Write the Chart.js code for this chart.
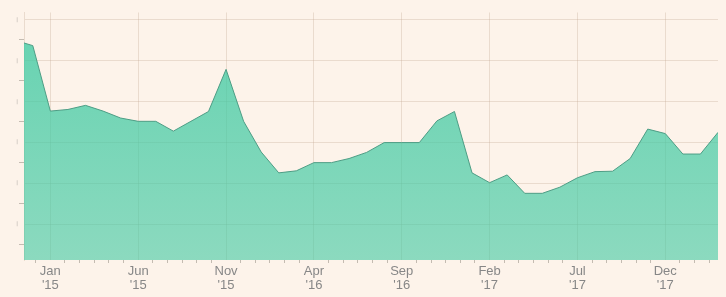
<!DOCTYPE html>
<html>
<head>
<meta charset="utf-8">
<script src="https://cdn.jsdelivr.net/npm/chart.js@4.4.1/dist/chart.umd.min.js"></script>
<style>
  html, body { margin: 0; padding: 0; background: #fdf3ea; }
  #wrap { width: 726px; height: 297px; }
</style>
</head>
<body>
<div id="wrap"><canvas id="chart"></canvas></div>
<script>
// monthly values, first one sits just left of the visible range
const months = [
  "2014-11", "2014-12",
  "2015-01", "2015-02", "2015-03", "2015-04", "2015-05", "2015-06",
  "2015-07", "2015-08", "2015-09", "2015-10", "2015-11", "2015-12",
  "2016-01", "2016-02", "2016-03", "2016-04", "2016-05", "2016-06",
  "2016-07", "2016-08", "2016-09", "2016-10", "2016-11", "2016-12",
  "2017-01", "2017-02", "2017-03", "2017-04", "2017-05", "2017-06",
  "2017-07", "2017-08", "2017-09", "2017-10", "2017-11", "2017-12",
  "2018-01", "2018-02", "2018-03",
];
const values = [
  54.9, 53.6,
  37.6, 38.0, 39.0, 37.6, 35.9, 35.1,
  35.1, 32.7, 35.1, 37.5, 47.8, 35.1,
  27.6, 22.5, 23.0, 25.0, 25.0, 26.0,
  27.5, 29.9, 29.9, 29.9, 35.2, 37.5,
  22.5, 20.1, 22.0, 17.5, 17.5, 19.0,
  21.3, 22.8, 22.9, 26.0, 33.2, 32.1,
  27.1, 27.1, 32.4,
];
const tickMonths = ["2015-01", "2015-06", "2015-11", "2016-04", "2016-09", "2017-02", "2017-07", "2017-12"];
const tickLabels = [
  ["Jan", "'15"], ["Jun", "'15"], ["Nov", "'15"], ["Apr", "'16"],
  ["Sep", "'16"], ["Feb", "'17"], ["Jul", "'17"], ["Dec", "'17"],
];
const yTicks = [5, 10, 15, 20, 25, 30, 35, 40, 45, 50, 55, 60];

const GRID = "rgba(196, 168, 146, 0.32)";
const TICK = "rgba(150, 140, 130, 0.55)";
const TEXT = "#878787";

function monthIndex(s) {
  const [y, m] = s.split("-").map(Number);
  return (y - 2015) * 12 + (m - 1);
}

const majorIdx = tickMonths.map(monthIndex);
const xMin = -1.5, xMax = monthIndex("2018-03");
const sub = (majorIdx[1] - majorIdx[0]) / 6;

const bgPlugin = {
  id: "bg",
  beforeDraw(chart) {
    const c = chart.ctx;
    c.save();
    c.fillStyle = "#fdf3ea";
    c.fillRect(0, 0, chart.width, chart.height);
    c.restore();
  },
};

function areaFill(ctx) {
  const area = ctx.chart.chartArea;
  if (!area) return "rgba(64, 201, 162, 0.7)";
  const g = ctx.chart.ctx.createLinearGradient(0, area.top, 0, area.bottom);
  g.addColorStop(0, "rgba(62, 202, 162, 0.8)");
  g.addColorStop(1, "rgba(64, 201, 162, 0.6)");
  return g;
}

new Chart(document.getElementById("chart"), {
  type: "line",
  data: {
    datasets: [{
      data: months.map((m, i) => ({ x: monthIndex(m), y: values[i] })),
      borderColor: "#4e9d85",
      borderWidth: 1,
      backgroundColor: areaFill,
      fill: "start",
      pointRadius: 0,
      tension: 0,
    }],
  },
  plugins: [bgPlugin],
  options: {
    responsive: true,
    maintainAspectRatio: false,
    animation: false,
    layout: { padding: { top: 12.5, right: 8, left: 0, bottom: 0 } },
    plugins: { legend: { display: false }, tooltip: { enabled: false } },
    scales: {
      x: {
        type: "linear",
        min: xMin,
        max: xMax,
        afterBuildTicks: (s) => {
          const ticks = [];
          const k0 = Math.ceil((xMin - majorIdx[0]) / sub);
          const k1 = Math.floor((xMax - majorIdx[0]) / sub);
          for (let k = k0; k <= k1; k++) {
            ticks.push({ value: majorIdx[0] + k * sub, big: ((k % 6) + 6) % 6 === 0 });
          }
          s.ticks = ticks;
        },
        afterFit: (s) => { s.height = 37; },
        border: { display: false },
        grid: {
          color: (c) => (c.tick && c.tick.big ? GRID : "transparent"),
          tickColor: (c) => (c.tick && c.tick.big ? "transparent" : TICK),
          tickLength: 3,
        },
        ticks: {
          autoSkip: false,
          maxRotation: 0,
          padding: 1,
          color: TEXT,
          font: { family: "'Liberation Sans', Arial, sans-serif", size: 13, lineHeight: 1.08 },
          callback: function (v, i, ticks) {
            if (!ticks[i].big) return "";
            const j = majorIdx.findIndex((m) => Math.abs(m - v) < 1e-6);
            return j >= 0 ? tickLabels[j] : "";
          },
        },
      },
      y: {
        min: 1.2,
        max: 61.7,
        afterBuildTicks: (s) => { s.ticks = yTicks.map((v) => ({ value: v })); },
        afterFit: (s) => { s.width = 24; },
        border: { display: true, color: GRID },
        grid: {
          color: (c) => (c.tick && c.tick.value % 10 === 0 ? GRID : "transparent"),
          tickColor: (c) => (c.tick && c.tick.value % 10 === 0 ? "transparent" : TICK),
          tickLength: 5,
        },
        ticks: {
          padding: 1,
          color: "#a8a29c",
          font: { family: "'DejaVu Sans', sans-serif", size: 5 },
          callback: (v) => (v % 10 === 0 ? "|" : ""),
        },
      },
    },
  },
});
</script>
</body>
</html>
